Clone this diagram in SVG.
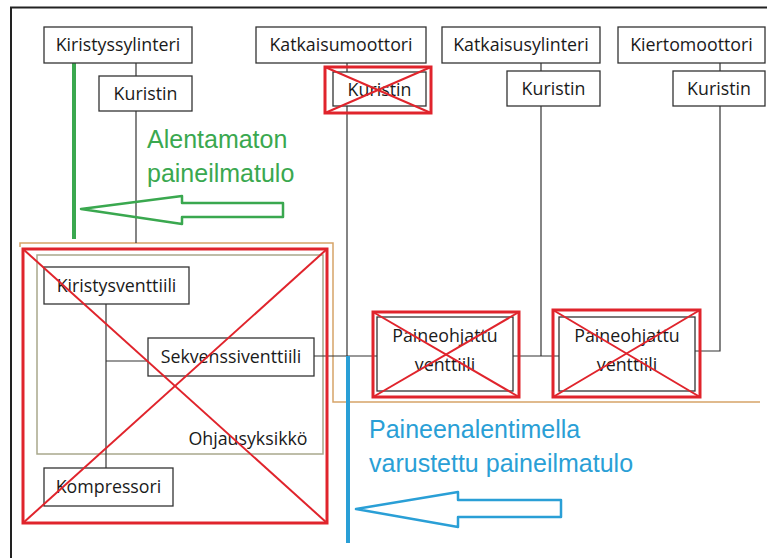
<svg xmlns="http://www.w3.org/2000/svg" width="767" height="558" viewBox="0 0 767 558">
  <style>
    .box { fill: #ffffff; stroke: #333333; stroke-width: 1.3; }
    .lbl { font-family: "Open Sans", "Liberation Sans", sans-serif; font-size: 17.8px; fill: #1a1a1a; text-anchor: middle; }
    .wire { fill: none; stroke: #333333; stroke-width: 1.2; }
    .cross { fill: none; stroke: #e0242c; stroke-width: 3; }
    .crossline { stroke: #e0242c; stroke-width: 2; }
    .green { fill: #3aa84f; }
    .blue { fill: #2a9fd6; }
    .big { font-family: "Liberation Sans", Arial, sans-serif; font-size: 25px; }
  </style>

  <rect width="767" height="558" fill="#ffffff"/>
  <!-- outer frame -->
  <path d="M11,558 V7.5 H767" fill="none" stroke="#222222" stroke-width="2"/>

  <!-- group outlines -->
  <path d="M20,247 V243 H333 V402 H760" fill="none" stroke="#d6a468" stroke-width="1.5"/>
  <rect x="37" y="255" width="286" height="199" fill="none" stroke="#a9a88c" stroke-width="1.5"/>

  <!-- connectors -->
  <g id="connectors">
    <line class="wire" x1="136" y1="63" x2="136" y2="243"/>
    <line class="wire" x1="347" y1="63" x2="347" y2="356"/>
    <line class="wire" x1="541" y1="63" x2="541" y2="356"/>
    <polyline class="wire" points="720,63 720,351 695,351"/>
    <line class="wire" x1="106" y1="304" x2="106" y2="468"/>
    <line class="wire" x1="106" y1="361" x2="148" y2="361"/>
    <line class="wire" x1="314" y1="356" x2="377" y2="356"/>
    <line class="wire" x1="513" y1="356" x2="559" y2="356"/>
  </g>

  <!-- supply lines -->
  <line x1="74" y1="62" x2="74" y2="239" stroke="#3aa84f" stroke-width="4"/>
  <line x1="348" y1="356" x2="348" y2="543" stroke="#2a9fd6" stroke-width="4"/>

  <g id="kiristyssylinteri"><rect class="box" x="44" y="27" width="148" height="36"/><text class="lbl" x="118" y="51">Kiristyssylinteri</text></g>
  <g id="katkaisumoottori"><rect class="box" x="256" y="27" width="170" height="36"/><text class="lbl" x="341" y="51">Katkaisumoottori</text></g>
  <g id="katkaisusylinteri"><rect class="box" x="442" y="27" width="158" height="36"/><text class="lbl" x="521" y="51">Katkaisusylinteri</text></g>
  <g id="kiertomoottori"><rect class="box" x="618" y="27" width="147" height="36"/><text class="lbl" x="691.5" y="51">Kiertomoottori</text></g>

  <g id="kuristin1"><rect class="box" x="99" y="76" width="93" height="35"/><text class="lbl" x="145.5" y="100">Kuristin</text></g>
  <g id="kuristin2">
    <rect class="box" x="333" y="72" width="93" height="34"/><text class="lbl" x="379.5" y="96">Kuristin</text>
    <rect class="cross" x="325" y="67" width="106" height="46"/>
    <line class="crossline" x1="325" y1="67" x2="431" y2="113"/><line class="crossline" x1="431" y1="67" x2="325" y2="113"/>
  </g>
  <g id="kuristin3"><rect class="box" x="507" y="71" width="93" height="35"/><text class="lbl" x="553.5" y="95">Kuristin</text></g>
  <g id="kuristin4"><rect class="box" x="673" y="71" width="92" height="35"/><text class="lbl" x="719" y="95">Kuristin</text></g>

  <g id="kiristysventtiili"><rect class="box" x="44" y="267" width="145" height="37"/><text class="lbl" x="116.5" y="292">Kiristysventtiili</text></g>
  <g id="sekvenssiventtiili"><rect class="box" x="148" y="338" width="166" height="38"/><text class="lbl" x="231" y="363">Sekvenssiventtiili</text></g>
  <g id="kompressori"><rect class="box" x="44" y="468" width="129" height="38"/><text class="lbl" x="108.5" y="493">Kompressori</text></g>
  <text class="lbl" x="248" y="445">Ohjausyksikkö</text>

  <g id="paineohjattu1">
    <rect class="box" x="377" y="317" width="136" height="74"/>
    <text class="lbl" x="445" y="342">Paineohjattu</text><text class="lbl" x="445" y="371">venttiili</text>
    <rect class="cross" x="373" y="312" width="146" height="85"/>
    <line class="crossline" x1="373" y1="312" x2="519" y2="397"/><line class="crossline" x1="519" y1="312" x2="373" y2="397"/>
  </g>
  <g id="paineohjattu2">
    <rect class="box" x="559" y="317" width="136" height="74"/>
    <text class="lbl" x="627" y="342">Paineohjattu</text><text class="lbl" x="627" y="371">venttiili</text>
    <rect class="cross" x="553" y="310" width="147" height="87"/>
    <line class="crossline" x1="553" y1="310" x2="700" y2="397"/><line class="crossline" x1="700" y1="310" x2="553" y2="397"/>
  </g>

  <!-- crossed-out control unit -->
  <g id="ohjausyksikko-cross">
    <rect class="cross" x="23" y="249" width="304" height="274"/>
    <line class="crossline" x1="23" y1="249" x2="327" y2="523"/><line class="crossline" x1="327" y1="249" x2="23" y2="523"/>
  </g>

  <!-- unreduced supply -->
  <g id="alentamaton">
    <text class="big green" x="147" y="148">Alentamaton</text>
    <text class="big green" x="147" y="182">paineilmatulo</text>
    <polygon points="81,209 182,196 182,203 283,203 283,217 182,217 182,224" fill="none" stroke="#3aa84f" stroke-width="2.5" stroke-linejoin="round"/>
  </g>

  <!-- regulated supply -->
  <g id="paineenalentimella">
    <text class="big blue" x="369" y="438">Paineenalentimella</text>
    <text class="big blue" x="369" y="472">varustettu paineilmatulo</text>
    <polygon points="356,509 458,492 458,500 561,500 561,517 458,517 458,527" fill="none" stroke="#2a9fd6" stroke-width="2.5" stroke-linejoin="round"/>
  </g>
</svg>
